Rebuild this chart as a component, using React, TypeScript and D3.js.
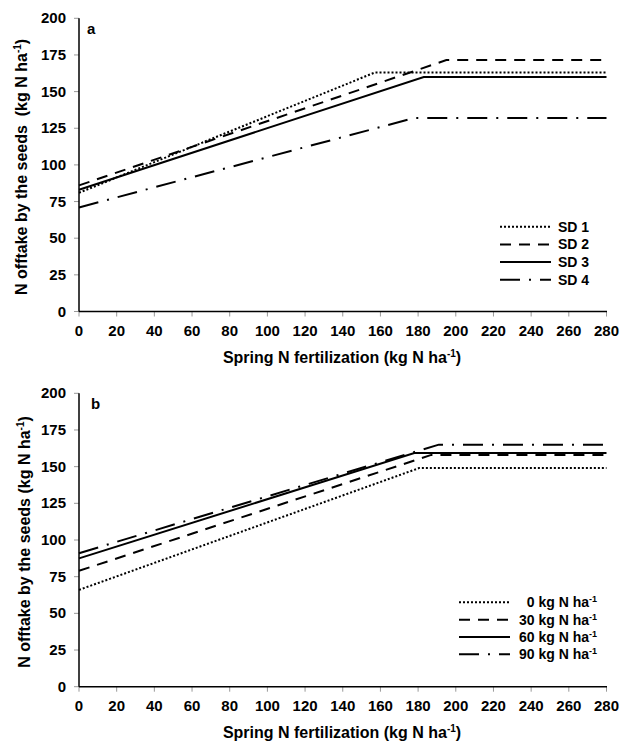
import * as d3 from 'd3';

// x ticks and y ticks shared by both panels
const xTicks = [0, 20, 40, 60, 80, 100, 120, 140, 160, 180, 200, 220, 240, 260, 280];
const yTicks = [0, 25, 50, 75, 100, 125, 150, 175, 200];

// panel a: sowing dates
const labelsA = ['SD 1', 'SD 2', 'SD 3', 'SD 4'];
const xA = [
  [0, 157, 280],
  [0, 195, 280],
  [0, 183, 280],
  [0, 178, 280],
];
const yA = [
  [81, 163, 163],
  [86, 171.5, 171.5],
  [83, 160, 160],
  [71, 132, 132],
];

// panel b: autumn N rates
const labelsB = ['0', '30', '60', '90'];
const xB = [
  [0, 180.5, 280],
  [0, 187, 280],
  [0, 178, 280],
  [0, 191, 280],
];
const yB = [
  [66, 149, 149],
  [79, 158, 158],
  [87.5, 159.3, 159.3],
  [91, 165, 165],
];

const dashes = ['2 2', '11 8', null, '20 9 2 9'];
const FONT = '"Liberation Sans", Arial, sans-serif';

function Panel({ top, bottom, tag, xs, ys, labels, legend, yTitle, yTitleX, tagX }) {
  const x = d3.scaleLinear().domain([0, 280]).range([79, 606.5]);
  const y = d3.scaleLinear().domain([0, 200]).range([bottom, top]);
  const line = d3
    .line<[number, number]>()
    .x((d) => x(d[0]))
    .y((d) => y(d[1]));
  const midY = (top + bottom) / 2 + 2;

  return (
    <g fontFamily={FONT} fontWeight="bold" fill="#000">
      {/* ticks */}
      {yTicks.map((t) => (
        <g key={'y' + t}>
          <line x1={74} x2={79} y1={y(t)} y2={y(t)} stroke="#999" strokeWidth={1} />
          <text x={66} y={y(t) + 5} fontSize={15} textAnchor="end">
            {t}
          </text>
        </g>
      ))}
      {xTicks.map((t) => (
        <g key={'x' + t}>
          <line x1={x(t)} x2={x(t)} y1={bottom} y2={bottom + 5} stroke="#999" strokeWidth={1} />
          <text x={x(t)} y={bottom + 24.5} fontSize={15} textAnchor="middle">
            {t}
          </text>
        </g>
      ))}

      {/* axes */}
      <line x1={79} x2={79} y1={top} y2={bottom} stroke="#000" strokeWidth={1.5} />
      <line x1={79} x2={607} y1={bottom} y2={bottom} stroke="#000" strokeWidth={1.5} />

      {/* series */}
      {xs.map((xv, i) => (
        <path
          key={i}
          d={line(xv.map((v, j) => [v, ys[i][j]]))}
          fill="none"
          stroke="#000"
          strokeWidth={2}
          strokeDasharray={dashes[i] ?? undefined}
        />
      ))}

      <text x={tagX} y={top + 16} fontSize={15}>
        {tag}
      </text>

      {/* axis titles */}
      <text x={342} y={bottom + 51} fontSize={16} textAnchor="middle">
        Spring N fertilization (kg N ha
        <tspan fontSize={10} dy={-6}>-1</tspan>
        <tspan dy={6}>)</tspan>
      </text>
      <text
        transform={`translate(${yTitleX},${midY}) rotate(-90)`}
        fontSize={16}
        textAnchor="middle"
        xmlSpace="preserve"
      >
        {yTitle}
        <tspan fontSize={10} dy={-6}>-1</tspan>
        <tspan dy={6}>)</tspan>
      </text>

      {legend}
    </g>
  );
}

export default function App() {
  const legendA = (
    <g>
      {labelsA.map((l, i) => {
        const cy = 226.7 + i * 17.7;
        return (
          <g key={l}>
            <line x1={500} x2={551} y1={cy} y2={cy} stroke="#000" strokeWidth={2} strokeDasharray={dashes[i] ?? undefined} />
            <text x={558} y={cy + 5} fontSize={14}>
              {l}
            </text>
          </g>
        );
      })}
    </g>
  );
  const legendB = (
    <g>
      {labelsB.map((l, i) => {
        const cy = 602.3 + i * 17.35;
        return (
          <g key={l}>
            <line x1={459} x2={510} y1={cy} y2={cy} stroke="#000" strokeWidth={2} strokeDasharray={dashes[i] ?? undefined} />
            <text x={597} y={cy + 5} fontSize={14} textAnchor="end">
              {l} kg N ha
              <tspan fontSize={9} dy={-5}>-1</tspan>
            </text>
          </g>
        );
      })}
    </g>
  );

  return (
    <svg
      width={620}
      height={742}
      style={{ position: 'absolute', left: 0, top: 0, background: '#fff' }}
    >
      <Panel
        top={18.3}
        bottom={311.5}
        tag="a"
        tagX={87}
        xs={xA}
        ys={yA}
        labels={labelsA}
        legend={legendA}
        yTitle={'N offtake by the seeds\u00a0\u00a0(kg N ha'}
        yTitleX={27}
      />
      <Panel
        top={393.3}
        bottom={686.7}
        tag="b"
        tagX={91}
        xs={xB}
        ys={yB}
        labels={labelsB}
        legend={legendB}
        yTitle={'N offtake by the seeds (kg N ha'}
        yTitleX={30}
      />
    </svg>
  );
}
